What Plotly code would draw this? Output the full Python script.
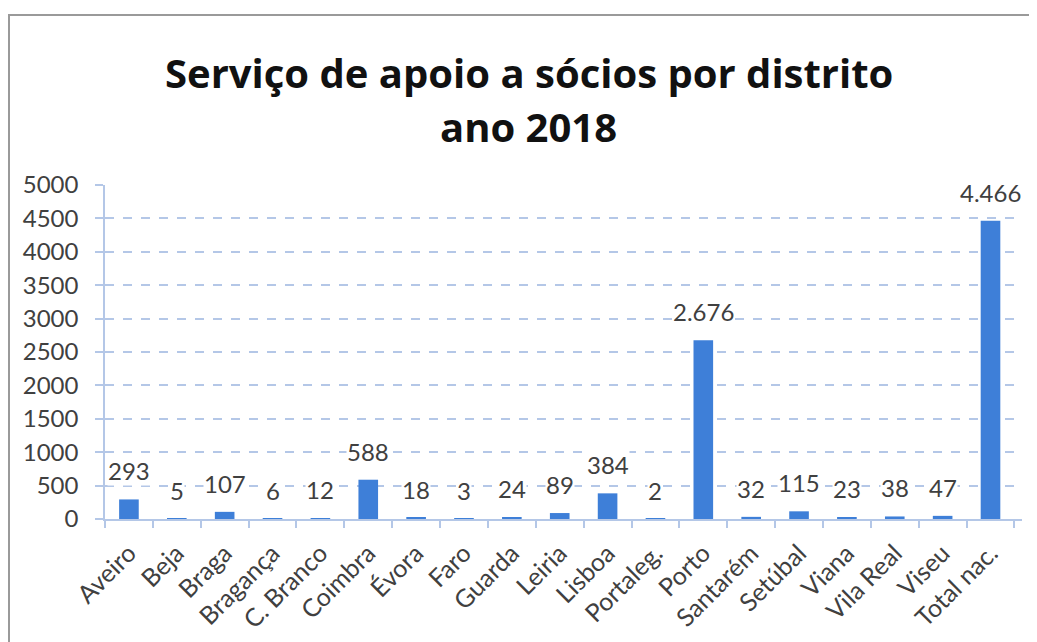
import plotly.graph_objects as go

categories = ["Aveiro", "Beja", "Braga", "Bragança", "C. Branco", "Coimbra", "Évora", "Faro",
              "Guarda", "Leiria", "Lisboa", "Portaleg.", "Porto", "Santarém", "Setúbal", "Viana",
              "Vila Real", "Viseu", "Total nac."]
values = [293, 5, 107, 6, 12, 588, 18, 3, 24, 89, 384, 2, 2676, 32, 115, 23, 38, 47, 4466]
y_ticks = [0, 500, 1000, 1500, 2000, 2500, 3000, 3500, 4000, 4500, 5000]
title_lines = ["Serviço de apoio a sócios por distrito", "ano 2018"]

BLUE = "#3E7FD8"
GRID = "#B4C7E7"
TXT = "#404040"
FONT = "Lato"

fig = go.Figure()
fig.add_trace(go.Bar(x=categories, y=values, marker=dict(color=BLUE, line=dict(width=0)),
                     width=0.41, hoverinfo="x+y"))

for c, v in zip(categories, values):
    fig.add_annotation(x=c, y=v, text=f"{v:,}".replace(",", "."), showarrow=False,
                       yanchor="bottom", yshift=13, bgcolor="white", borderpad=0,
                       font=dict(family=FONT, size=24, color=TXT))

for line, py in zip(title_lines, [1.338, 1.174]):
    fig.add_annotation(text=f"<b>{line}</b>", xref="paper", yref="paper", x=0.462, y=py,
                       xanchor="center", yanchor="middle", showarrow=False,
                       font=dict(family="Open Sans", size=40, color="#111111"))

fig.add_shape(type="rect", xref="paper", yref="paper",
              x0=-0.1047, x1=1.06, y0=-0.45, y1=1.509,
              line=dict(color="#9a9a9a", width=2), fillcolor="rgba(0,0,0,0)")

# page body has an 8px default margin, so the figure is offset by (8, 8)
fig.update_layout(
    width=1029, height=634,
    margin=dict(l=97, r=15, t=177, b=123, autoexpand=False),
    paper_bgcolor="white", plot_bgcolor="white",
    showlegend=False,
    xaxis=dict(showline=True, linecolor=GRID, linewidth=1.5, ticks="outside",
               tickson="boundaries", ticklen=7, tickcolor=GRID, tickwidth=1.5,
               tickangle=-45, ticklabelstandoff=8,
               tickfont=dict(family=FONT, size=25, color=TXT),
               showgrid=False, automargin=False),
    yaxis=dict(range=[0, 5000], tickvals=y_ticks, tickformat="d",
               showline=True, linecolor=GRID, linewidth=1.5,
               ticks="outside", ticklen=8, tickcolor=GRID, tickwidth=1.5,
               ticklabelstandoff=12,
               showgrid=True, gridcolor=GRID, gridwidth=1.5, griddash="dash",
               zeroline=False, automargin=False,
               tickfont=dict(family=FONT, size=24, color=TXT)),
)

fig.write_html("out.html")
